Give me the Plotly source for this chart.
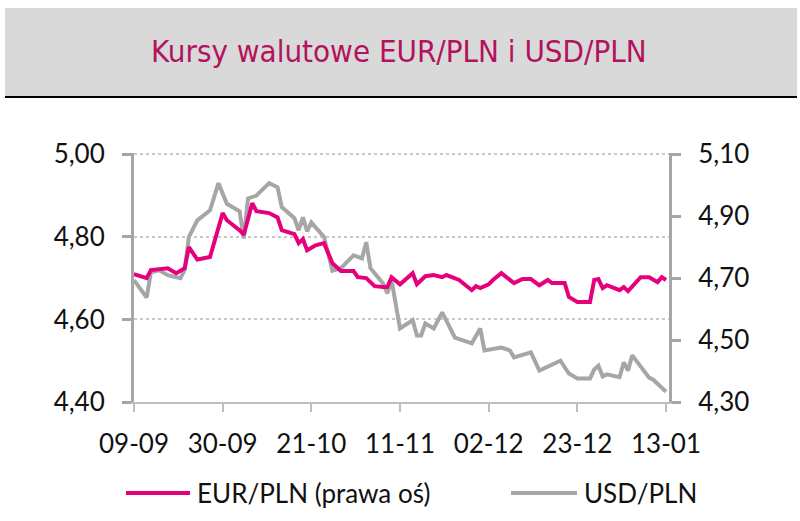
import plotly.graph_objects as go

# ---- data ----
usd_dates = ["2024-09-09","2024-09-12","2024-09-13","2024-09-15","2024-09-17","2024-09-20","2024-09-21",
             "2024-09-22","2024-09-24","2024-09-27","2024-09-29","2024-10-01","2024-10-04","2024-10-05",
             "2024-10-06","2024-10-08","2024-10-11","2024-10-13","2024-10-14","2024-10-17","2024-10-18",
             "2024-10-19","2024-10-20","2024-10-21","2024-10-24","2024-10-26","2024-10-28","2024-10-31",
             "2024-11-02","2024-11-03","2024-11-04","2024-11-07","2024-11-08","2024-11-09","2024-11-11",
             "2024-11-14","2024-11-15","2024-11-16","2024-11-17","2024-11-19","2024-11-21","2024-11-22",
             "2024-11-24","2024-11-28","2024-11-30","2024-12-01","2024-12-05","2024-12-07","2024-12-08",
             "2024-12-12","2024-12-14","2024-12-19","2024-12-21","2024-12-23","2024-12-26","2024-12-27",
             "2024-12-28","2024-12-29","2024-12-30","2025-01-02","2025-01-03","2025-01-04","2025-01-05",
             "2025-01-09","2025-01-10","2025-01-13"]
usd_values = [4.695,4.653,4.714,4.719,4.707,4.700,4.720,
              4.800,4.840,4.864,4.930,4.880,4.862,4.796,
              4.893,4.900,4.930,4.920,4.872,4.845,4.816,
              4.847,4.813,4.835,4.800,4.718,4.724,4.755,
              4.748,4.787,4.724,4.687,4.663,4.695,4.578,
              4.598,4.561,4.561,4.590,4.578,4.617,4.598,
              4.556,4.542,4.578,4.525,4.532,4.525,4.508,
              4.520,4.476,4.500,4.469,4.457,4.457,4.479,
              4.488,4.462,4.467,4.460,4.496,4.476,4.513,
              4.459,4.454,4.425]

eur_dates = ["2024-09-09","2024-09-12","2024-09-13","2024-09-17","2024-09-19","2024-09-21","2024-09-22",
             "2024-09-24","2024-09-27","2024-09-30","2024-10-01","2024-10-03","2024-10-04","2024-10-05",
             "2024-10-07","2024-10-08","2024-10-11","2024-10-13","2024-10-14","2024-10-17","2024-10-18",
             "2024-10-19","2024-10-20","2024-10-22","2024-10-24","2024-10-26","2024-10-28","2024-10-31",
             "2024-11-01","2024-11-03","2024-11-05","2024-11-07","2024-11-08","2024-11-09","2024-11-11",
             "2024-11-14","2024-11-15","2024-11-17","2024-11-19","2024-11-21","2024-11-22","2024-11-25",
             "2024-11-28","2024-11-29","2024-11-30","2024-12-02","2024-12-03","2024-12-05","2024-12-07",
             "2024-12-08","2024-12-10","2024-12-12","2024-12-14","2024-12-16","2024-12-17","2024-12-20",
             "2024-12-21","2024-12-23","2024-12-26","2024-12-27","2024-12-28","2024-12-29","2024-12-30",
             "2025-01-02","2025-01-03","2025-01-04","2025-01-07","2025-01-09","2025-01-11","2025-01-12",
             "2025-01-13"]
eur_values = [4.713,4.700,4.726,4.732,4.716,4.732,4.800,
              4.760,4.768,4.910,4.887,4.868,4.855,4.840,
              4.942,4.916,4.910,4.896,4.855,4.842,4.813,
              4.826,4.790,4.806,4.813,4.748,4.723,4.723,
              4.703,4.700,4.674,4.671,4.671,4.703,4.680,
              4.716,4.680,4.706,4.710,4.703,4.710,4.694,
              4.661,4.674,4.668,4.680,4.694,4.716,4.694,
              4.684,4.697,4.697,4.677,4.694,4.684,4.684,
              4.639,4.623,4.623,4.694,4.697,4.668,4.677,
              4.661,4.671,4.658,4.703,4.703,4.687,4.703,
              4.694]

x_tick_vals = ["2024-09-09","2024-09-30","2024-10-21","2024-11-11","2024-12-02","2024-12-23","2025-01-13"]
x_tick_text = ["09-09","30-09","21-10","11-11","02-12","23-12","13-01"]
left_ticks = [4.40, 4.60, 4.80, 5.00]
right_ticks = [4.30, 4.50, 4.70, 4.90, 5.10]

title_text = "Kursy walutowe EUR/PLN i USD/PLN"
eur_name = "EUR/PLN (prawa oś)"
usd_name = "USD/PLN"

PINK = "#E6007E"
GRAY = "#A6A6A6"
TITLE_COLOR = "#B3125E"
FONT = "Lato"
TXT = "#111111"

# ---- layout geometry (pixels) ----
W, H = 800, 521
L, R, T, B = 134, 131, 153, 119
pw, ph = W - L - R, H - T - B

def px_x(x):
    return (x - L) / pw

def px_y(y):
    return (H - B - y) / ph

fig = go.Figure()
fig.add_trace(go.Scatter(x=eur_dates, y=eur_values, name=eur_name, yaxis="y2",
                         mode="lines", line=dict(color=PINK, width=4), showlegend=False))
fig.add_trace(go.Scatter(x=usd_dates, y=usd_values, name=usd_name, yaxis="y",
                         mode="lines", line=dict(color=GRAY, width=4), showlegend=False))

fig.update_layout(
    width=W, height=H,
    margin=dict(l=L, r=R, t=T, b=B, pad=0, autoexpand=False),
    paper_bgcolor="white", plot_bgcolor="white",
    separators=", ",
    font=dict(family=FONT, size=26, color=TXT),
    showlegend=False,
    xaxis=dict(type="date", range=["2024-09-09", "2025-01-13 17:00"],
               tickmode="array", tickvals=x_tick_vals, ticktext=x_tick_text,
               showline=True, linecolor="#BFBFBF", linewidth=2,
               ticks="outside", ticklen=8, tickcolor="#BFBFBF", tickwidth=2,
               ticklabelstandoff=10,
               showgrid=False, zeroline=False, tickfont=dict(size=26)),
    yaxis=dict(range=[4.40, 5.003], tickmode="array", tickvals=left_ticks,
               tickformat=".2f", showline=True, linecolor=GRAY, linewidth=3,
               ticks="outside", ticklen=9, tickcolor=GRAY, tickwidth=3,
               ticklabelstandoff=12,
               showgrid=True, gridcolor="#C8C8C8", griddash="dot", gridwidth=2,
               zeroline=False, tickfont=dict(size=26)),
    yaxis2=dict(range=[4.30, 5.104], overlaying="y", side="right", tickmode="array",
                tickvals=right_ticks, tickformat=".2f", showline=True, linecolor=GRAY,
                linewidth=3, ticks="outside", ticklen=9, tickcolor=GRAY, tickwidth=3,
                ticklabelstandoff=12,
                showgrid=False, zeroline=False, tickfont=dict(size=26)),
)

# title box
fig.add_shape(type="rect", xref="paper", yref="paper",
              x0=px_x(5), x1=px_x(797), y0=px_y(96), y1=px_y(8),
              fillcolor="#D9D9D9", line=dict(width=0), layer="below")
fig.add_shape(type="line", xref="paper", yref="paper",
              x0=px_x(5), x1=px_x(797), y0=px_y(97), y1=px_y(97),
              line=dict(color="#000000", width=2))
fig.add_annotation(text=title_text, xref="paper", yref="paper",
                   x=px_x(399), y=px_y(51), xanchor="center", yanchor="middle",
                   showarrow=False,
                   font=dict(family="DejaVu Sans Condensed", size=31, color=TITLE_COLOR))

# legend (drawn manually)
legend_items = [(eur_name, PINK, 126, 190), (usd_name, GRAY, 511, 577)]
for name, color, x0, x1 in legend_items:
    fig.add_shape(type="line", xref="paper", yref="paper",
                  x0=px_x(x0), x1=px_x(x1), y0=px_y(493), y1=px_y(493),
                  line=dict(color=color, width=4))
    fig.add_annotation(text=name, xref="paper", yref="paper",
                       x=px_x(x1 + 5), y=px_y(493), xanchor="left", yanchor="middle",
                       showarrow=False, font=dict(family=FONT, size=26, color=TXT))

fig.write_html("out.html")
